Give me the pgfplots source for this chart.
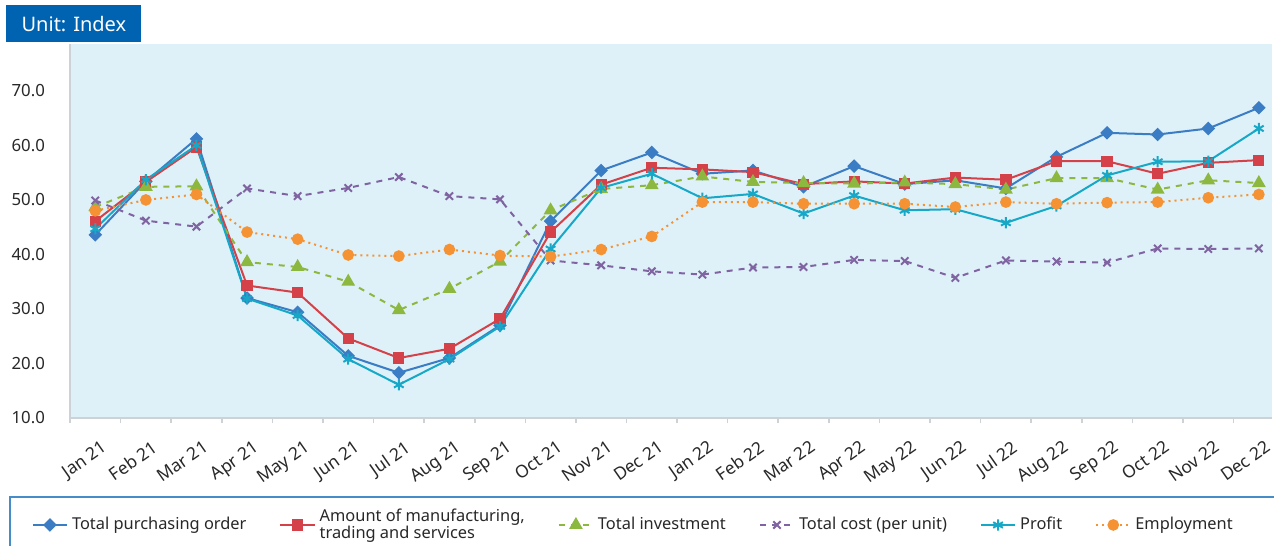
\documentclass[border=0pt]{standalone}
\usepackage{fontspec}
\setmainfont{Noto Sans}
\usepackage{pgfplots}
\usepackage{pgfplotstable}
\pgfplotsset{compat=1.18}
\definecolor{cBlue}{RGB}{59,125,196}
\definecolor{cRed}{RGB}{212,65,72}
\definecolor{cGreen}{RGB}{141,184,63}
\definecolor{cPurple}{RGB}{128,100,162}
\definecolor{cCyan}{RGB}{23,168,199}
\definecolor{cOrange}{RGB}{245,146,52}
\definecolor{cBg}{RGB}{222,241,249}
\definecolor{cAxis}{RGB}{205,210,214}
\definecolor{cUnit}{RGB}{0,99,177}
\definecolor{cLegend}{RGB}{70,140,200}
\definecolor{cText}{RGB}{40,40,40}

\pgfplotstableread{
x po mfg inv cost profit emp
0 43.6 46.1 48.7 49.9 44.7 48.0
1 53.4 53.3 52.4 46.2 53.7 50.0
2 61.2 59.7 52.5 45.1 60.0 51.0
3 32.0 34.3 38.6 52.1 31.9 44.1
4 29.4 33.0 37.7 50.7 28.8 42.8
5 21.4 24.6 35.0 52.2 20.8 39.9
6 18.3 21.0 29.8 54.2 16.1 39.7
7 21.0 22.7 33.7 50.7 20.8 40.9
8 27.0 28.2 38.7 50.1 26.8 39.8
9 46.1 44.1 48.1 38.9 41.0 39.6
10 55.4 52.8 52.0 38.0 52.2 40.9
11 58.7 55.9 52.7 36.9 54.8 43.3
12 54.8 55.6 54.3 36.3 50.3 49.6
13 55.4 55.1 53.3 37.6 51.1 49.6
14 52.4 52.9 53.1 37.7 47.5 49.3
15 56.2 53.4 53.0 39.0 50.8 49.3
16 52.9 53.0 53.2 38.8 48.1 49.3
17 53.6 54.1 52.9 35.7 48.3 48.7
18 52.1 53.7 51.9 38.9 45.8 49.6
19 57.9 57.1 54.0 38.7 48.9 49.3
20 62.3 57.1 54.0 38.5 54.5 49.5
21 62.0 54.8 51.9 41.1 57.0 49.6
22 63.1 56.8 53.6 41.0 57.1 50.4
23 66.9 57.3 53.1 41.1 63.1 51.0
}\data

\begin{document}
\begin{tikzpicture}
\useasboundingbox (-35pt,-64pt) rectangle (602pt,209pt);
\begin{axis}[
  at={(0,0)}, anchor=south west,
  width=601pt, height=187pt, scale only axis,
  xmin=-0.5, xmax=23.26, ymin=10, ymax=78.6,
  axis background/.style={fill=cBg},
  axis x line*=bottom, axis y line*=left,
  axis line style={draw=cAxis, line width=1pt},
  xtick={0,...,23},
  xticklabels={Jan 21,Feb 21,Mar 21,Apr 21,May 21,Jun 21,Jul 21,Aug 21,Sep 21,Oct 21,Nov 21,Dec 21,Jan 22,Feb 22,Mar 22,Apr 22,May 22,Jun 22,Jul 22,Aug 22,Sep 22,Oct 22,Nov 22,Dec 22},
  minor xtick={-0.5,0.5,...,22.5},
  major x tick style={draw=none},
  minor x tick style={draw=cAxis, line width=0.8pt},
  tick align=outside, minor tick length=2.5pt, major tick length=0pt,
  ytick={10,20,...,70}, y tick style={draw=none},
  y tick label style={/pgf/number format/fixed, /pgf/number format/fixed zerofill, /pgf/number format/precision=1, /pgf/number format/assume math mode=true,
    font=\fontsize{8.4}{10}\selectfont, text=cText, xshift=-9pt},
  x tick label style={font=\fontsize{8.7}{10}\selectfont, text=cText, rotate=35, anchor=north east, xshift=-0.5pt, yshift=-7pt},
  legend columns=6,
  legend cell align=left,
  legend style={draw=none, fill=none, at={(-0.037,-0.286)}, anchor=west,
    font=\fontsize{8.2}{8.7}\selectfont, text=cText,
    cells={align=left},
    /tikz/every even column/.append style={column sep=14.5pt}},
  every axis plot/.append style={line width=1pt},
]
\addplot[cBlue, mark=square*, mark size=1.9pt, mark options={rotate=45, solid}] table[x=x,y=po]{\data};
\addlegendentry{Total purchasing order}
\addplot[cRed, mark=square*, mark size=2.3pt, mark options={solid}] table[x=x,y=mfg]{\data};
\addlegendentry{Amount of manufacturing,\\trading and services}
\addplot[cGreen, dashed, mark=triangle*, mark size=3pt, mark options={solid}] table[x=x,y=inv]{\data};
\addlegendentry{Total investment}
\addplot[cPurple, dashed, mark=x, mark size=2.6pt, mark options={solid}] table[x=x,y=cost]{\data};
\addlegendentry{Total cost (per unit)}
\addplot[cCyan, mark=asterisk, mark size=2.8pt, mark options={solid}] table[x=x,y=profit]{\data};
\addlegendentry{Profit}
\addplot[cOrange, dotted, mark=*, mark size=2.4pt, mark options={solid}] table[x=x,y=emp]{\data};
\addlegendentry{Employment}
\end{axis}
\draw[cLegend, line width=0.8pt] (-30pt,-70pt) |- (610pt,-39.5pt);
\node[fill=cUnit, text=white, font=\fontsize{10}{12}\selectfont, minimum width=67.5pt, minimum height=18.5pt, anchor=north west, inner sep=0pt] at (-32pt,206.5pt) {Unit: Index};
\end{tikzpicture}
\end{document}
